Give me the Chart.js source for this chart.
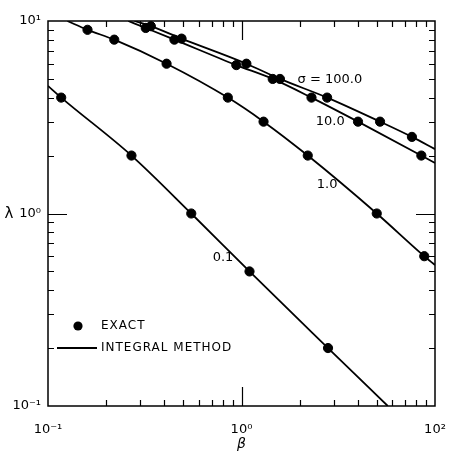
<!DOCTYPE html>
<html lang="en">
<head>
  <meta charset="UTF-8" />
  <title>Lambda vs Beta</title>
  <script src="https://cdn.jsdelivr.net/npm/chart.js"></script>
  <style>
    html, body { margin: 0; padding: 0; background: #fff; }
    #wrap { width: 449px; height: 454px; }
  </style>
</head>
<body>
  <div id="wrap"><canvas id="lambdaChart"></canvas></div>

  <script>
    // tick labels (as printed on the figure)
    const xTickValues = [0.1, 1, 10];
    const xTickLabels = ['10⁻¹', '10⁰', '10²'];
    const yTickValues = [0.1, 1, 10];
    const yTickLabels = ['10⁻¹', '10⁰', '10¹'];

    // exact solutions (dots)
    const exact01 = [[0.117, 4.0], [0.27, 2.0], [0.55, 1.0], [1.1, 0.5], [2.8, 0.2]];
    const exact1 = [[0.16, 9.0], [0.22, 8.0], [0.41, 6.0], [0.85, 4.0], [1.3, 3.0], [2.2, 2.0], [5.0, 1.0], [8.8, 0.6]];
    const exact10 = [[0.32, 9.2], [0.45, 8.0], [0.94, 5.9], [1.45, 5.0], [2.3, 4.0], [4.0, 3.0], [8.5, 2.0]];
    const exact100 = [[0.34, 9.4], [0.49, 8.1], [1.06, 6.0], [1.58, 5.0], [2.77, 4.0], [5.2, 3.0], [7.6, 2.5]];

    // integral method curves
    const integral01 = [[0.1, 4.6], [0.117, 4.0], [0.27, 2.0], [0.55, 1.0], [1.1, 0.5], [2.8, 0.2], [5.7, 0.1]];
    const integral1 = [[0.126, 10], [0.16, 9.0], [0.22, 8.0], [0.41, 6.0], [0.85, 4.0], [1.3, 3.0], [2.2, 2.0], [5.0, 1.0], [8.8, 0.6], [10, 0.54]];
    const integral10 = [[0.26, 10], [0.32, 9.2], [0.45, 8.0], [0.94, 5.9], [1.45, 5.0], [2.3, 4.0], [4.0, 3.0], [8.5, 2.0], [10, 1.83]];
    const integral100 = [[0.28, 10], [0.34, 9.4], [0.49, 8.1], [1.06, 6.0], [1.58, 5.0], [2.77, 4.0], [5.2, 3.0], [7.6, 2.5], [10, 2.16]];

    const curveLabels = [
      { text: 'σ = 100.0', x: 1.95, y: 4.94 },
      { text: '10.0', x: 2.42, y: 2.99 },
      { text: '1.0', x: 2.45, y: 1.41 },
      { text: '0.1', x: 0.71, y: 0.587 }
    ];

    const FONT = '"DejaVu Sans", Arial, sans-serif';
    const toXY = arr => arr.map(p => ({ x: p[0], y: p[1] }));

    function lineSet(arr) {
      return {
        type: 'line',
        data: toXY(arr),
        borderColor: '#000',
        borderWidth: 1.8,
        pointRadius: 0,
        cubicInterpolationMode: 'monotone',
        fill: false
      };
    }
    function dotSet(arr) {
      return {
        type: 'scatter',
        data: toXY(arr),
        backgroundColor: '#000',
        borderColor: '#000',
        pointRadius: 4.6,
        showLine: false
      };
    }

    const minorVals = [0.2, 0.3, 0.4, 0.5, 0.6, 0.7, 0.8, 0.9, 2, 3, 4, 5, 6, 7, 8, 9];

    // frame, inward tick marks, legend and curve labels
    const decorations = {
      id: 'decorations',
      afterDatasetsDraw(chart) {
        const { ctx, chartArea: a, scales: { x, y } } = chart;
        ctx.save();
        ctx.strokeStyle = '#000';
        ctx.lineWidth = 1.5;
        ctx.strokeRect(a.left, a.top, a.right - a.left, a.bottom - a.top);

        ctx.lineWidth = 1.2;
        ctx.beginPath();
        minorVals.concat([1]).forEach(v => {
          const len = v === 1 ? 19 : 6;
          const px = Math.round(x.getPixelForValue(v)) + 0.5;
          ctx.moveTo(px, a.bottom); ctx.lineTo(px, a.bottom - len);
          ctx.moveTo(px, a.top); ctx.lineTo(px, a.top + len);
          const py = Math.round(y.getPixelForValue(v)) + 0.5;
          ctx.moveTo(a.left, py); ctx.lineTo(a.left + len, py);
          ctx.moveTo(a.right, py); ctx.lineTo(a.right - len, py);
        });
        ctx.stroke();

        // y axis symbol
        ctx.fillStyle = '#000';
        ctx.font = '15px ' + FONT;
        ctx.textAlign = 'center';
        ctx.textBaseline = 'middle';
        ctx.fillText('λ', 9, y.getPixelForValue(1) + 1);

        // curve labels
        ctx.font = '13px ' + FONT;
        ctx.textAlign = 'left';
        curveLabels.forEach(l => {
          ctx.fillText(l.text, x.getPixelForValue(l.x), y.getPixelForValue(l.y));
        });

        // legend
        ctx.font = '12px ' + FONT;
        ctx.letterSpacing = '1px';
        ctx.beginPath();
        ctx.arc(a.left + 30, 326, 4.6, 0, Math.PI * 2);
        ctx.fill();
        ctx.fillText('EXACT', a.left + 53, 326);
        ctx.lineWidth = 1.8;
        ctx.beginPath();
        ctx.moveTo(a.left + 9, 348); ctx.lineTo(a.left + 49, 348);
        ctx.stroke();
        ctx.fillText('INTEGRAL METHOD', a.left + 53, 348);
        ctx.restore();
      }
    };

    new Chart(document.getElementById('lambdaChart'), {
      data: {
        datasets: [
          lineSet(integral01), lineSet(integral1), lineSet(integral10), lineSet(integral100),
          dotSet(exact01), dotSet(exact1), dotSet(exact10), dotSet(exact100)
        ]
      },
      options: {
        responsive: true,
        maintainAspectRatio: false,
        animation: false,
        layout: { padding: { top: 21, right: 14, left: 0, bottom: 0 } },
        plugins: { legend: { display: false }, tooltip: { enabled: false } },
        scales: {
          x: {
            type: 'logarithmic',
            min: 0.1, max: 10,
            afterBuildTicks: s => { s.ticks = xTickValues.map(v => ({ value: v })); },
            afterFit: s => { s.height = 48; s.paddingLeft = 0; s.paddingRight = 0; },
            grid: { display: false, drawTicks: false },
            border: { display: false },
            ticks: {
              autoSkip: false, maxRotation: 0, padding: 16, color: '#000',
              font: { family: FONT, size: 13 },
              callback: (v, i) => xTickLabels[i]
            },
            title: {
              display: true, text: 'β', color: '#000',
              font: { family: FONT, size: 14, style: 'italic' },
              padding: { top: 0, bottom: 1 }
            }
          },
          y: {
            type: 'logarithmic',
            min: 0.1, max: 10,
            afterBuildTicks: s => { s.ticks = yTickValues.map(v => ({ value: v })); },
            afterFit: s => { s.width = 48; s.paddingTop = 0; s.paddingBottom = 0; },
            grid: { display: false, drawTicks: false },
            border: { display: false },
            ticks: {
              autoSkip: false, padding: 7, color: '#000',
              font: { family: FONT, size: 13 },
              callback: (v, i) => yTickLabels[i]
            }
          }
        }
      },
      plugins: [decorations]
    });
  </script>
</body>
</html>
